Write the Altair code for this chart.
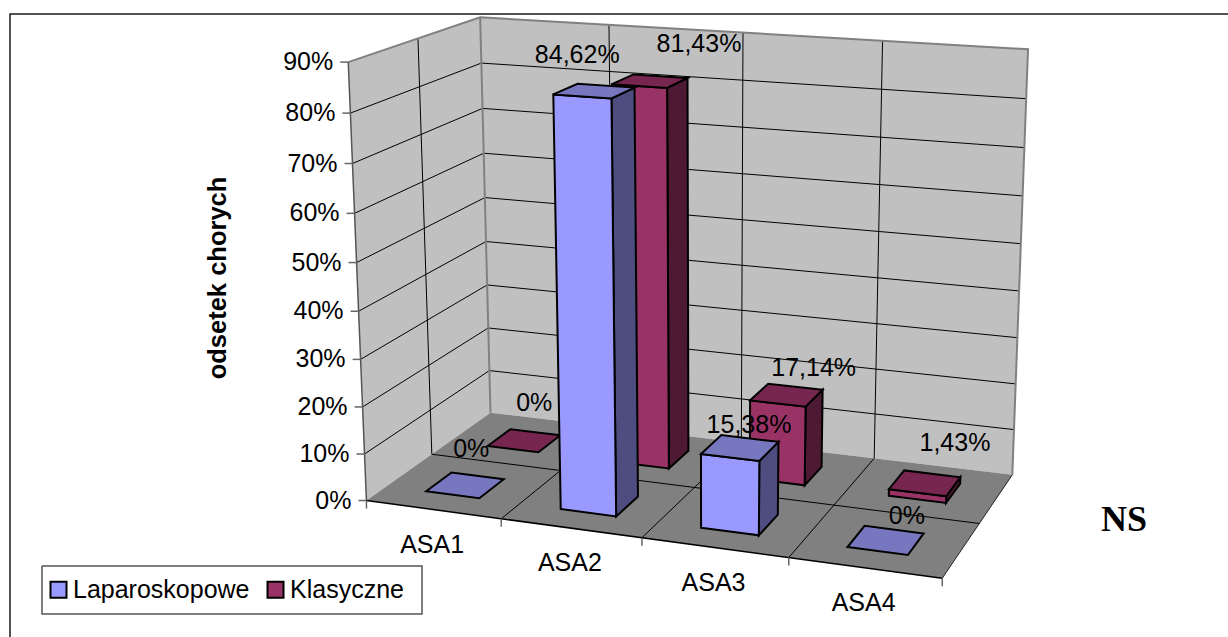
import altair as alt
import numpy as np
import pandas as pd

W, H = 1228, 637

categories = ["ASA1", "ASA2", "ASA3", "ASA4"]
series = ["Laparoskopowe", "Klasyczne"]
laparoskopowe = [0.0, 84.62, 15.38, 0.0]
klasyczne = [0.0, 81.43, 17.14, 1.43]
value_labels_lap = ["0%", "84,62%", "15,38%", "0%"]
value_labels_kla = ["0%", "81,43%", "17,14%", "1,43%"]
axis_ticks = list(range(0, 100, 10))

# Chart-box coordinates: x = category position 0..4, v = percent, d = depth 0 (front)..1 (back).
# The camera is recovered from where the box's edges fall on the page.
CAMERA_POINTS = [
    ((0, 0, 0), (367, 500)), ((1, 0, 0), (501, 519)), ((2, 0, 0), (642, 538)),
    ((3, 0, 0), (788, 558)), ((4, 0, 0), (942, 578)), ((0, 90, 0), (348, 61)),
    ((0, 50, 0), (357, 263)), ((0, 0, 1), (490, 412)), ((4, 0, 1), (1012, 475)),
    ((0, 90, 1), (480, 17)), ((4, 90, 1), (1028, 49)), ((0, 0, 0.5), (432, 454)),
    ((4, 0, 0.5), (980, 524)), ((0, 90, 0.5), (418, 39)), ((1, 90, 1), (610, 25)),
    ((2, 90, 1), (743, 33)), ((3, 90, 1), (882, 41)), ((3, 0, 1), (875, 457)),
    ((0, 80, 1), (481, 63)), ((0, 10, 1), (489, 372)),
]


def fit_camera(points):
    rows, rhs = [], []
    for (x, v, d), (pu, pv) in points:
        X = [x / 4, v / 90, d, 1]
        rows.append(X + [0, 0, 0, 0] + [-pu * X[0], -pu * X[1], -pu * X[2]])
        rhs.append(pu)
        rows.append([0, 0, 0, 0] + X + [-pv * X[0], -pv * X[1], -pv * X[2]])
        rhs.append(pv)
    sol = np.linalg.lstsq(np.array(rows, float), np.array(rhs, float), rcond=None)[0]
    return sol


CAM = fit_camera(CAMERA_POINTS)


def project(x, v, d):
    X = np.array([x / 4, v / 90, d, 1.0])
    w = CAM[8:11] @ X[:3] + 1
    return [float(CAM[:4] @ X / w), float(CAM[4:8] @ X / w)]


def poly(corners, fill, stroke="none", sw=0.0):
    ring = [project(*c) for c in corners]
    ring.append(ring[0])
    return {"type": "Feature", "geometry": {"type": "Polygon", "coordinates": [ring]},
            "properties": {"fill": fill, "stroke": stroke, "sw": sw}}


def line(points, stroke, sw):
    return {"type": "Feature", "geometry": {"type": "LineString", "coordinates": points},
            "properties": {"stroke": stroke, "sw": sw}}


def seg(a, b, stroke="#000000", sw=1.0):
    return line([project(*a), project(*b)], stroke, sw)


WALL = "#c0c0c0"
FLOOR = "#808080"
EDGE = "#808080"
INK = "#000000"
SHADES = {
    "Laparoskopowe": {"front": "#9999ff", "side": "#4d4d80", "top": "#7777c0"},
    "Klasyczne": {"front": "#993366", "side": "#4d1933", "top": "#77264f"},
}
BAR_X = (0.3, 0.7)
ROW_D = {"Laparoskopowe": (0.15, 0.35), "Klasyczne": (0.65, 0.85)}

# Panels behind the columns
panels = [
    poly([(0, 0, 1), (4, 0, 1), (4, 90, 1), (0, 90, 1)], WALL),
    poly([(0, 0, 0), (0, 0, 1), (0, 90, 1), (0, 90, 0)], WALL),
]
grid = []
for t in axis_ticks[1:-1]:
    grid.append(seg((0, t, 0), (0, t, 1)))
    grid.append(seg((0, t, 1), (4, t, 1)))
for c in (1, 2, 3):
    grid.append(seg((c, 0, 1), (c, 90, 1)))
grid.append(seg((0, 0, 0.5), (0, 90, 0.5)))
edges = [
    line([project(0, 90, 0), project(0, 90, 1), project(4, 90, 1), project(4, 0, 1)], EDGE, 2),
    seg((0, 0, 1), (0, 90, 1), EDGE, 2),
    seg((0, 0, 0), (0, 90, 0), "#555555", 1.5),
]
floor = [poly([(0, 0, 0), (4, 0, 0), (4, 0, 1), (0, 0, 1)], FLOOR)]
floor_lines = [seg((0, 0, 0.5), (4, 0, 0.5))]
for c in (1, 2, 3):
    floor_lines.append(seg((c, 0, 0), (c, 0, 1)))
floor_lines.append(seg((0, 0, 0), (4, 0, 0), INK, 1.5))
floor_lines.append(seg((4, 0, 0), (4, 0, 1), "#222222", 1))

# Axis tick marks
ticks = []
for t in axis_ticks:
    u, v = project(0, t, 0)
    ticks.append(line([[u, v], [u - 8, v]], "#666666", 1.5))
for c in range(5):
    u, v = project(c, 0, 0)
    ticks.append(line([[u, v], [u, v + 8]], "#666666", 1.5))

# Columns, back row first so the front row overlaps it
bars = []
for name, values in (("Klasyczne", klasyczne), ("Laparoskopowe", laparoskopowe)):
    d0, d1 = ROW_D[name]
    sh = SHADES[name]
    for i, val in enumerate(values):
        x0, x1 = i + BAR_X[0], i + BAR_X[1]
        if val > 0:
            bars.append(poly([(x1, 0, d0), (x1, 0, d1), (x1, val, d1), (x1, val, d0)], sh["side"], INK, 2))
            bars.append(poly([(x0, 0, d0), (x1, 0, d0), (x1, val, d0), (x0, val, d0)], sh["front"], INK, 2))
        bars.append(poly([(x0, val, d0), (x1, val, d0), (x1, val, d1), (x0, val, d1)], sh["top"], INK, 2))

# Value label placement relative to the centre of each column's top
NUDGE_LAP = [(6, -36), (-17, -36), (9, -23), (21, -24)]
NUDGE_KLA = [(10, -38), (49, -37), (27, -27), (30, -40)]
labels = []
for name, values, texts_, nudges in (
    ("Laparoskopowe", laparoskopowe, value_labels_lap, NUDGE_LAP),
    ("Klasyczne", klasyczne, value_labels_kla, NUDGE_KLA),
):
    d = sum(ROW_D[name]) / 2
    for i, (val, txt, (nx, ny)) in enumerate(zip(values, texts_, nudges)):
        u, v = project(i + 0.5, val, d)
        labels.append({"x": u + nx, "y": v + ny, "text": txt})
labels_df = pd.DataFrame(labels)

cat_df = pd.DataFrame(
    [{"x": project(i + 0.5, 0, 0)[0] - 1, "y": project(i + 0.5, 0, 0)[1] + 35, "text": c}
     for i, c in enumerate(categories)]
)
tick_df = pd.DataFrame(
    [{"x": project(0, t, 0)[0] - 15, "y": project(0, t, 0)[1], "text": f"{t}%"} for t in axis_ticks]
)

X = alt.X("x:Q", scale=alt.Scale(domain=[0, W], range=[0, W]), axis=None)
Y = alt.Y("y:Q", scale=alt.Scale(domain=[0, H], range=[0, H]), axis=None)
FONT = "Liberation Sans"
FS = 25


def shapes(features, filled=True):
    data = alt.InlineData(values={"type": "FeatureCollection", "features": features},
                          format=alt.DataFormat(property="features", type="json"))
    if filled:
        mark = alt.Chart(data).mark_geoshape(filled=True).encode(
            fill=alt.Fill("properties.fill:N", scale=None),
            stroke=alt.Stroke("properties.stroke:N", scale=None),
            strokeWidth=alt.StrokeWidth("properties.sw:Q", scale=None),
        )
    else:
        mark = alt.Chart(data).mark_geoshape(filled=False).encode(
            stroke=alt.Stroke("properties.stroke:N", scale=None),
            strokeWidth=alt.StrokeWidth("properties.sw:Q", scale=None),
        )
    return mark.project(type="identity", scale=1, translate=[0, 0])


def texts(df, **kw):
    return alt.Chart(df).mark_text(font=FONT, fontSize=FS, color="#000000", baseline="middle", **kw).encode(
        x=X, y=Y, text="text:N"
    )


# Outer chart frame and the box around the legend
frame = shapes([
    line([[10, H], [10, 14], [W, 14]], "#1a1a1a", 1.5),
    line([[42, 566], [422, 566], [422, 614], [42, 614], [42, 566]], "#555555", 1.5),
], filled=False)

# Invisible squares carry the legend
legend_layer = alt.Chart(pd.DataFrame({"s": series})).mark_square(opacity=0).encode(
    x=alt.value(0), y=alt.value(0),
    fill=alt.Fill(
        "s:N",
        scale=alt.Scale(domain=series, range=[SHADES[s]["front"] for s in series]),
        legend=alt.Legend(
            title=None, orient="none", legendX=46, legendY=577, direction="horizontal", columns=2,
            padding=0, symbolType="square",
            symbolSize=256, symbolStrokeColor="#000000", symbolStrokeWidth=2, symbolOpacity=1,
            labelFont=FONT, labelFontSize=FS, labelColor="#000000", labelOffset=2, columnPadding=13,
            labelLimit=300,
        ),
    ),
)

title = alt.Chart(pd.DataFrame({"x": [218], "y": [278], "text": ["odsetek chorych"]})).mark_text(
    font=FONT, fontSize=25.5, fontWeight="bold", angle=270, baseline="middle", color="#000000"
).encode(x=X, y=Y, text="text:N")

ns = alt.Chart(pd.DataFrame({"x": [1124], "y": [520], "text": ["NS"]})).mark_text(
    font="Liberation Serif", fontSize=36, fontWeight="bold", baseline="middle", color="#000000"
).encode(x=X, y=Y, text="text:N")

chart = alt.layer(
    legend_layer,
    frame,
    shapes(panels),
    shapes(grid, filled=False),
    shapes(edges, filled=False),
    shapes(floor),
    shapes(floor_lines, filled=False),
    shapes(ticks, filled=False),
    shapes(bars),
    texts(tick_df, align="right"),
    texts(cat_df, align="center"),
    texts(labels_df, align="center"),
    title,
    ns,
).properties(
    width=W, height=H, padding=0, autosize=alt.AutoSizeParams(type="none"), background="#ffffff"
).configure_view(stroke=None)

chart.save("out.html", embed_options={"renderer": "svg", "actions": False})
